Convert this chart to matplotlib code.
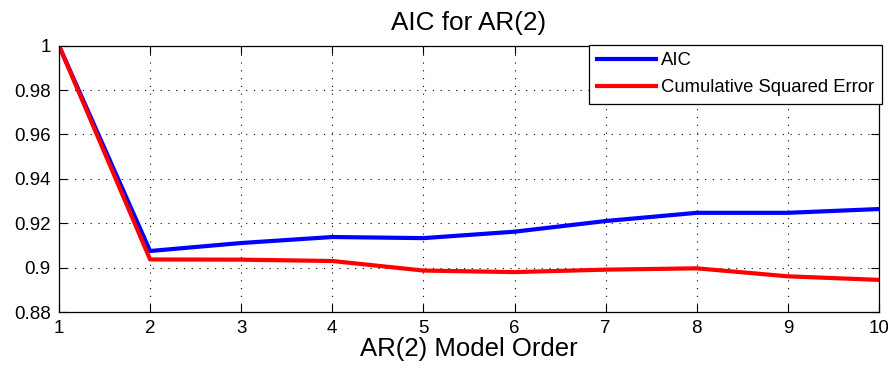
import numpy as np
import matplotlib
matplotlib.use("Agg")
import matplotlib.pyplot as plt

plt.rcParams['font.family'] = ['Liberation Sans', 'DejaVu Sans']

# model orders and normalised values
orders = [1, 2, 3, 4, 5, 6, 7, 8, 9, 10]
aic = [1.0, 0.9075, 0.9111, 0.9138, 0.9133, 0.9162, 0.9210, 0.9247, 0.9247, 0.9264]
cse = [1.0, 0.9037, 0.9036, 0.9030, 0.8987, 0.8980, 0.8991, 0.8997, 0.8961, 0.8945]

fig = plt.figure(figsize=(8.88, 3.68), dpi=100)
ax = fig.add_axes([0.0664, 0.152, 0.9234, 0.724])

ax.plot(orders, aic, color='#0000ff', linewidth=3.0, label='AIC')
ax.plot(orders, cse, color='#ff0000', linewidth=3.0, label='Cumulative Squared Error')

ax.set_xlim(1, 10)
ax.set_ylim(0.88, 1.0)
ax.set_xticks(range(1, 11))
ax.set_yticks([0.88, 0.9, 0.92, 0.94, 0.96, 0.98, 1.0])
ax.set_yticklabels(['0.88', '0.9', '0.92', '0.94', '0.96', '0.98', '1'])
ax.tick_params(direction='in', length=6, width=0.8, top=True, right=True,
               labelsize=13.5, pad=6)
ax.grid(True, color='black', linestyle=(0, (1, 6)), linewidth=0.8)
for s in ax.spines.values():
    s.set_linewidth(0.9)

ax.set_title('AIC for AR(2)', fontsize=18.8, pad=11)
ax.set_xlabel('AR(2) Model Order', fontsize=18.5, labelpad=0)

leg = ax.legend(loc='upper right', bbox_to_anchor=(1.004, 1.004), borderaxespad=0,
                fontsize=13.3, fancybox=False, framealpha=1, edgecolor='black',
                handlelength=3.2, handletextpad=0.3, borderpad=0.42, labelspacing=0.55)
leg.get_frame().set_linewidth(0.9)

fig.savefig('out.png', dpi=100)
